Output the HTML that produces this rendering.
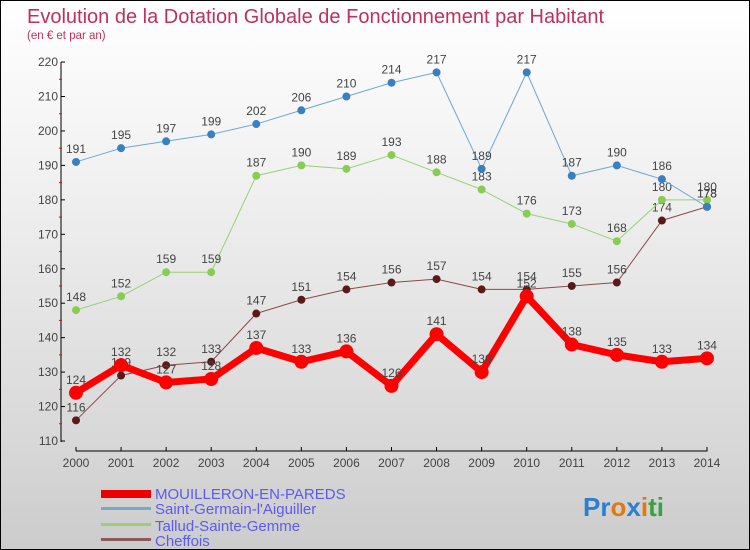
<!DOCTYPE html>
<html><head><meta charset="utf-8"><style>
body{margin:0}
#c{width:748px;height:548px;border:1px solid #000;background:linear-gradient(#fff,#f2f2f2 30%,#d8d8d8 80%,#ccc);position:relative;font-family:"Liberation Sans",sans-serif;overflow:hidden}
svg text{font-family:"Liberation Sans",sans-serif}
</style></head><body>
<div id="c">
<svg width="748" height="548" id="s">
<text x="26" y="22" font-size="20" fill="#c0305a">Evolution de la Dotation Globale de Fonctionnement par Habitant</text>
<text x="26" y="38" font-size="11.5" fill="#c0305a">(en € et par an)</text>
<g id="ax"></g><g id="ser"></g>
<g>
<rect x="100" y="489" width="50" height="8" fill="#e00"/>
<text x="154" y="498" font-size="15" fill="#5b5bf0">MOUILLERON-EN-PAREDS</text>
<rect x="100" y="506" width="50" height="3" fill="#7aa8cc"/>
<text x="154" y="513" font-size="15" fill="#5b5bf0">Saint-Germain-l'Aiguiller</text>
<rect x="100" y="522" width="50" height="3" fill="#99d077"/>
<text x="154" y="530" font-size="15" fill="#5b5bf0">Tallud-Sainte-Gemme</text>
<rect x="100" y="537" width="50" height="3" fill="#8a5a5a"/>
<text x="154" y="545" font-size="15" fill="#5b5bf0">Cheffois</text>
</g>
<text x="582" y="515" font-size="26" font-weight="bold"><tspan fill="#2a7fd0">Pr</tspan><tspan fill="#e07a10">o</tspan><tspan fill="#2a7fd0">x</tspan><tspan fill="#e07a10">i</tspan><tspan fill="#3aa040">ti</tspan></text>
</svg></div>
<script>
const years=[2000,2001,2002,2003,2004,2005,2006,2007,2008,2009,2010,2011,2012,2013,2014];
const yTicks=[110,120,130,140,150,160,170,180,190,200,210,220];
const mouilleron=[124,132,127,128,137,133,136,126,141,130,152,138,135,133,134];
const saintGermain=[191,195,197,199,202,206,210,214,217,189,217,187,190,186,178];
const tallud=[148,152,159,159,187,190,189,193,188,183,176,173,168,180,180];
const cheffois=[116,129,132,133,147,151,154,156,157,154,154,155,156,174,178];
const NS="http://www.w3.org/2000/svg";
const X=i=>75+i*45.07, Y=v=>440-(v-110)*34.45/10;
function mk(t,a,p){const e=document.createElementNS(NS,t);for(const k in a)e.setAttribute(k,a[k]);p.appendChild(e);return e;}
const ax=document.getElementById('ax'),ser=document.getElementById('ser');
let e=mk('line',{x1:60,y1:Y(220),x2:60,y2:441,stroke:'#000','stroke-width':1},ax);

e=mk('line',{x1:75,y1:450,x2:706.5,y2:450,stroke:'#000','stroke-width':1},ax);

yTicks.forEach((v,i)=>{mk('line',{x1:60,y1:Y(v),x2:64,y2:Y(v),stroke:'#000'},ax);
 if(i<yTicks.length-1)mk('line',{x1:58,y1:Y(v+5),x2:61,y2:Y(v+5),stroke:'#e00'},ax);
 const t=mk('text',{x:57,y:Y(v)+4,'font-size':12,fill:'#444','text-anchor':'end'},ax);t.textContent=v;
 });
years.forEach((y,i)=>{mk('line',{x1:X(i),y1:446,x2:X(i),y2:450,stroke:'#000'},ax);
 const t=mk('text',{x:X(i),y:466,'font-size':12,fill:'#444','text-anchor':'middle'},ax);t.textContent=y;
 });
function series(d,col,dot,w,r,name){
 const p=mk('polyline',{points:d.map((v,i)=>X(i)+','+Y(v)).join(' '),fill:'none',stroke:col,'stroke-width':w,'stroke-linejoin':'round'},ser);
 
 d.forEach((v,i)=>{const c=mk('circle',{cx:X(i),cy:Y(v),r:r,fill:dot},ser);
  
  const t=mk('text',{x:X(i),y:Y(v)-9,'font-size':12,fill:'#444','text-anchor':'middle'},ser);t.textContent=v;
  });
}
series(cheffois,'#8a4a4a','#5a1a1a',1,4,'cheffois');
series(tallud,'#99d077','#88cc55',1,4,'tallud');
series(saintGermain,'#6fa6d6','#3a80c0',1,4,'saint-germain');
series(mouilleron,'#f00','#f00',7,7,'mouilleron');
</script>
</body></html>
